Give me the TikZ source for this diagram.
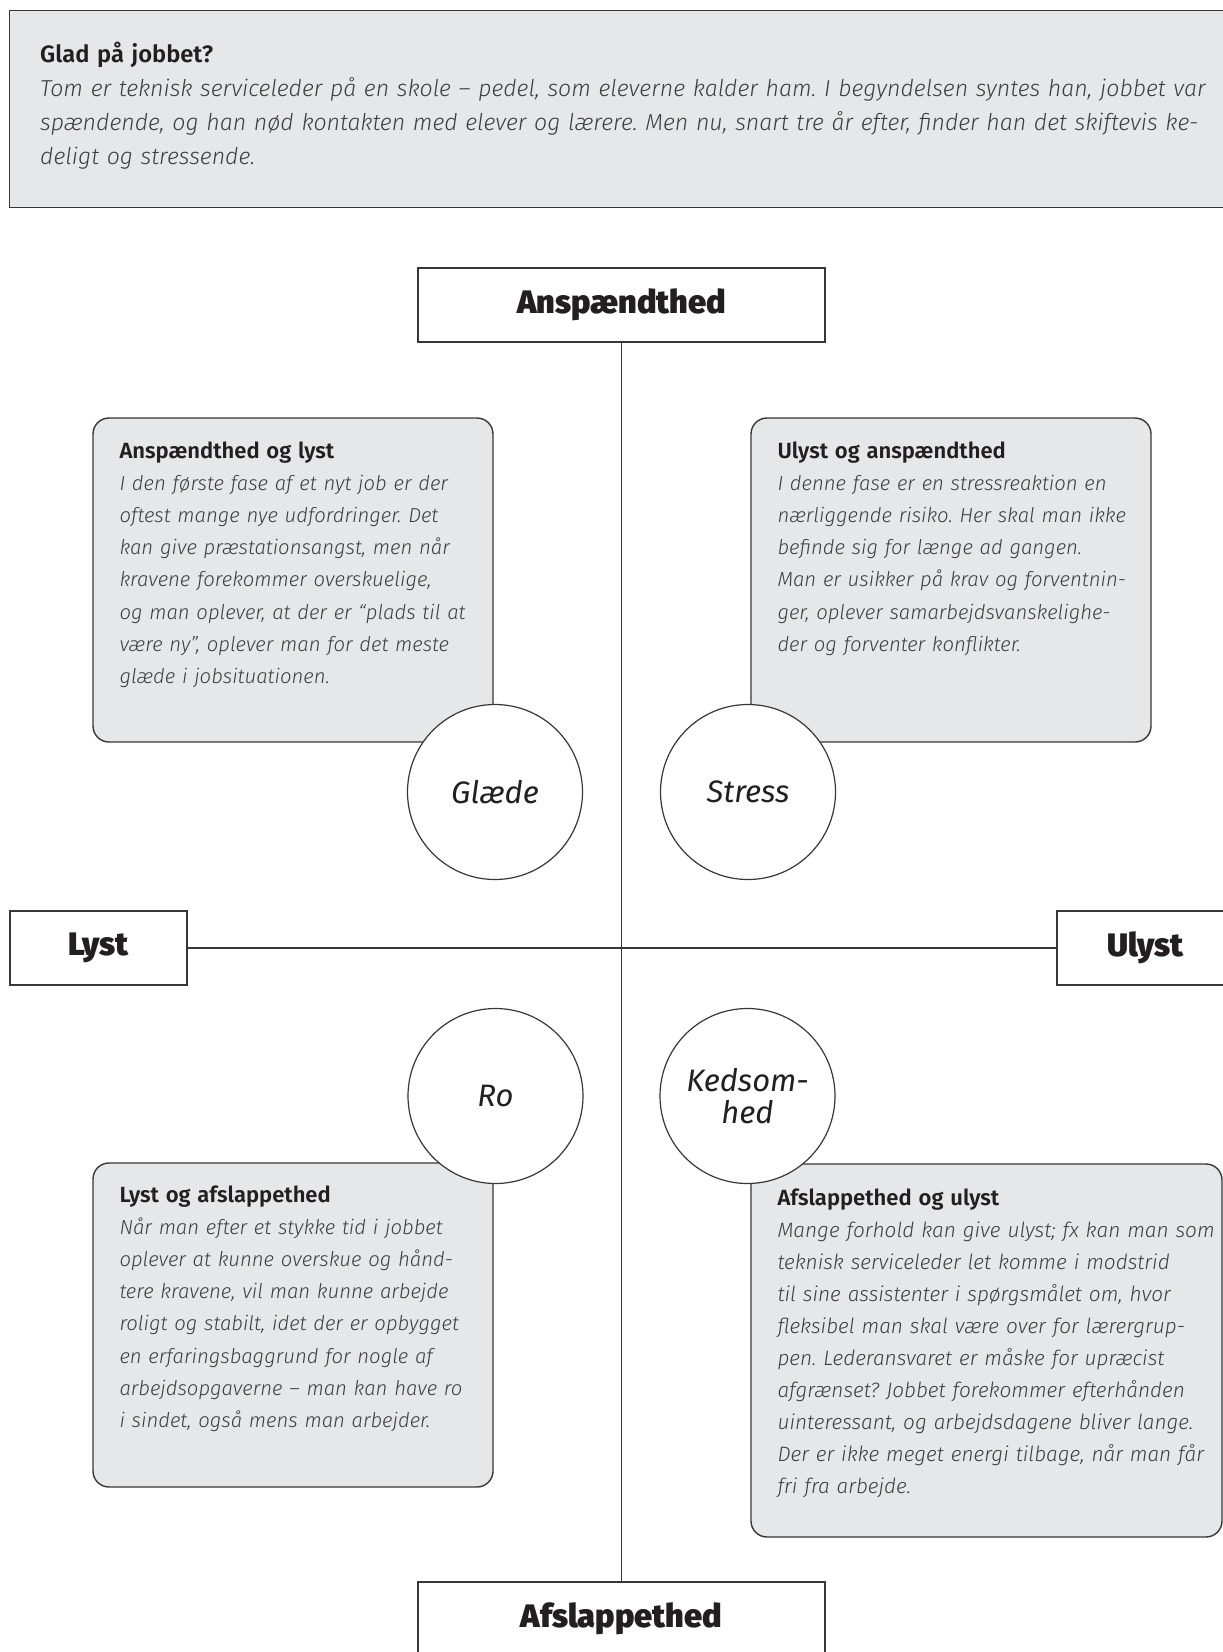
\documentclass[tikz,border=0pt]{standalone}
\usepackage{fontspec}
\setmainfont{Fira Sans}[ItalicFont={Fira Sans Light Italic},BoldFont={Fira Sans SemiBold}]
\newfontfamily\heavyfont{Fira Sans Black}
\newfontfamily\moodfont{Fira Sans}
\usetikzlibrary{positioning, calc}

\definecolor{boxgray}{RGB}{230,231,233}
\definecolor{framegray}{RGB}{55,55,55}
\definecolor{headink}{RGB}{35,31,32}
\definecolor{bodyink}{RGB}{62,62,64}

\newcommand{\fieldhead}[1]{\textcolor{headink}{\fontsize{22}{32}\selectfont\bfseries\upshape #1}}
\frenchspacing

\begin{document}
\begin{tikzpicture}[x=1pt, y=-1pt]
        \tikzset{
            intro/.style={rectangle, draw=framegray, line width=1.4pt, fill=boxgray, minimum width=1230pt, minimum height=197pt, anchor=north west, inner sep=0pt},
            pole/.style={rectangle, draw=framegray, line width=1.4pt, fill=white, minimum height=74pt, inner sep=0pt, font=\heavyfont\fontsize{32.5}{36}\selectfont, text=headink},
            axis/.style={draw=framegray, line width=1.3pt},
            field/.style={rectangle, draw=framegray, line width=1.4pt, fill=boxgray, rounded corners=16pt, minimum width=400pt, minimum height=324pt, inner sep=0pt},
            fieldtext/.style={anchor=north west, inner sep=0pt, align=left, text width=470pt, text=bodyink, font=\fontsize{20.3}{32.2}\selectfont\itshape},
            mood/.style={circle, draw=framegray, line width=1.2pt, fill=white, minimum size=175pt, inner sep=0pt, align=center, font=\moodfont\itshape\fontsize{31}{32}\selectfont, text=headink}
        }

        \useasboundingbox (0,0) rectangle (1223,1652);
        \clip (0,0) rectangle (1223,1652);

        % case text
        \node[intro] (intro) at (9,10) {};
        \node[fieldtext, text width=1200pt, font=\fontsize{23.1}{34}\selectfont\itshape] (introtext) at ([shift={(31,32)}]intro.north west)
            {\textcolor{headink}{\fontsize{23.7}{34}\selectfont\bfseries\upshape Glad på jobbet?}\\
             Tom er teknisk serviceleder på en skole – pedel, som eleverne kalder ham. I begyndelsen syntes han, jobbet var\\
             spændende, og han nød kontakten med elever og lærere. Men nu, snart tre år efter, finder han det skiftevis ke-\\
             deligt og stressende.};

        % the two axes
        \node[pole, minimum width=407pt] (tension) at (621.5,305) {Anspændthed};
        \node[pole, minimum width=407pt] (relax) at (621.5,1619) {Afslappethed};
        \node[pole, minimum width=177pt] (desire) at (98.5,948) {Lyst};
        \node[pole, minimum width=177pt] (reluct) at (1145.5,948) {Ulyst};
        \draw[axis] (tension) -- (relax);
        \draw[axis] (desire) -- (reluct);

        % quadrant boxes
        \node[field] (joy) at (293,580) {};
        \node[fieldtext] (joytext) at ([shift={(27,24)}]joy.north west)
            {\fieldhead{Anspændthed og lyst}\\
             I den første fase af et nyt job er der\\
             oftest mange nye udfordringer. Det\\
             kan give præstationsangst, men når\\
             kravene forekommer overskuelige,\\
             og man oplever, at der er “plads til at\\
             være ny”, oplever man for det meste\\
             glæde i jobsituationen.};

        \node[field] (strain) at (951,580) {};
        \node[fieldtext] (straintext) at ([shift={(27,24)}]strain.north west)
            {\fieldhead{Ulyst og anspændthed}\\
             I denne fase er en stressreaktion en\\
             nærliggende risiko. Her skal man ikke\\
             befinde sig for længe ad gangen.\\
             Man er usikker på krav og forventnin-\\
             ger, oplever samarbejdsvanskelighe-\\
             der og forventer konflikter.};

        \node[field] (calm) at (293,1325) {};
        \node[fieldtext] (calmtext) at ([shift={(27,23)}]calm.north west)
            {\fieldhead{Lyst og afslappethed}\\
             Når man efter et stykke tid i jobbet\\
             oplever at kunne overskue og hånd-\\
             tere kravene, vil man kunne arbejde\\
             roligt og stabilt, idet der er opbygget\\
             en erfaringsbaggrund for nogle af\\
             arbejdsopgaverne – man kan have ro\\
             i sindet, også mens man arbejder.};

        \node[field, minimum width=471pt, minimum height=373pt] (bore) at (986.5,1350.5) {};
        \node[fieldtext, font=\fontsize{20.8}{32}\selectfont\itshape] (boretext) at ([shift={(27,25)}]bore.north west)
            {\fieldhead{Afslappethed og ulyst}\\
             Mange forhold kan give ulyst; fx kan man som\\
             teknisk serviceleder let komme i modstrid\\
             til sine assistenter i spørgsmålet om, hvor\\
             fleksibel man skal være over for lærergrup-\\
             pen. Lederansvaret er måske for upræcist\\
             afgrænset? Jobbet forekommer efterhånden\\
             uinteressant, og arbejdsdagene bliver lange.\\
             Der er ikke meget energi tilbage, når man får\\
             fri fra arbejde.};

        % feelings
        \node[mood] (glaede) at (495,792) {Glæde};
        \node[mood] (stress) at (748,792) {Stress};
        \node[mood] (ro) at (495.5,1096) {Ro};
        \node[mood] (kedsom) at (747.5,1096) {Kedsom-\\hed};

\end{tikzpicture}
\end{document}
